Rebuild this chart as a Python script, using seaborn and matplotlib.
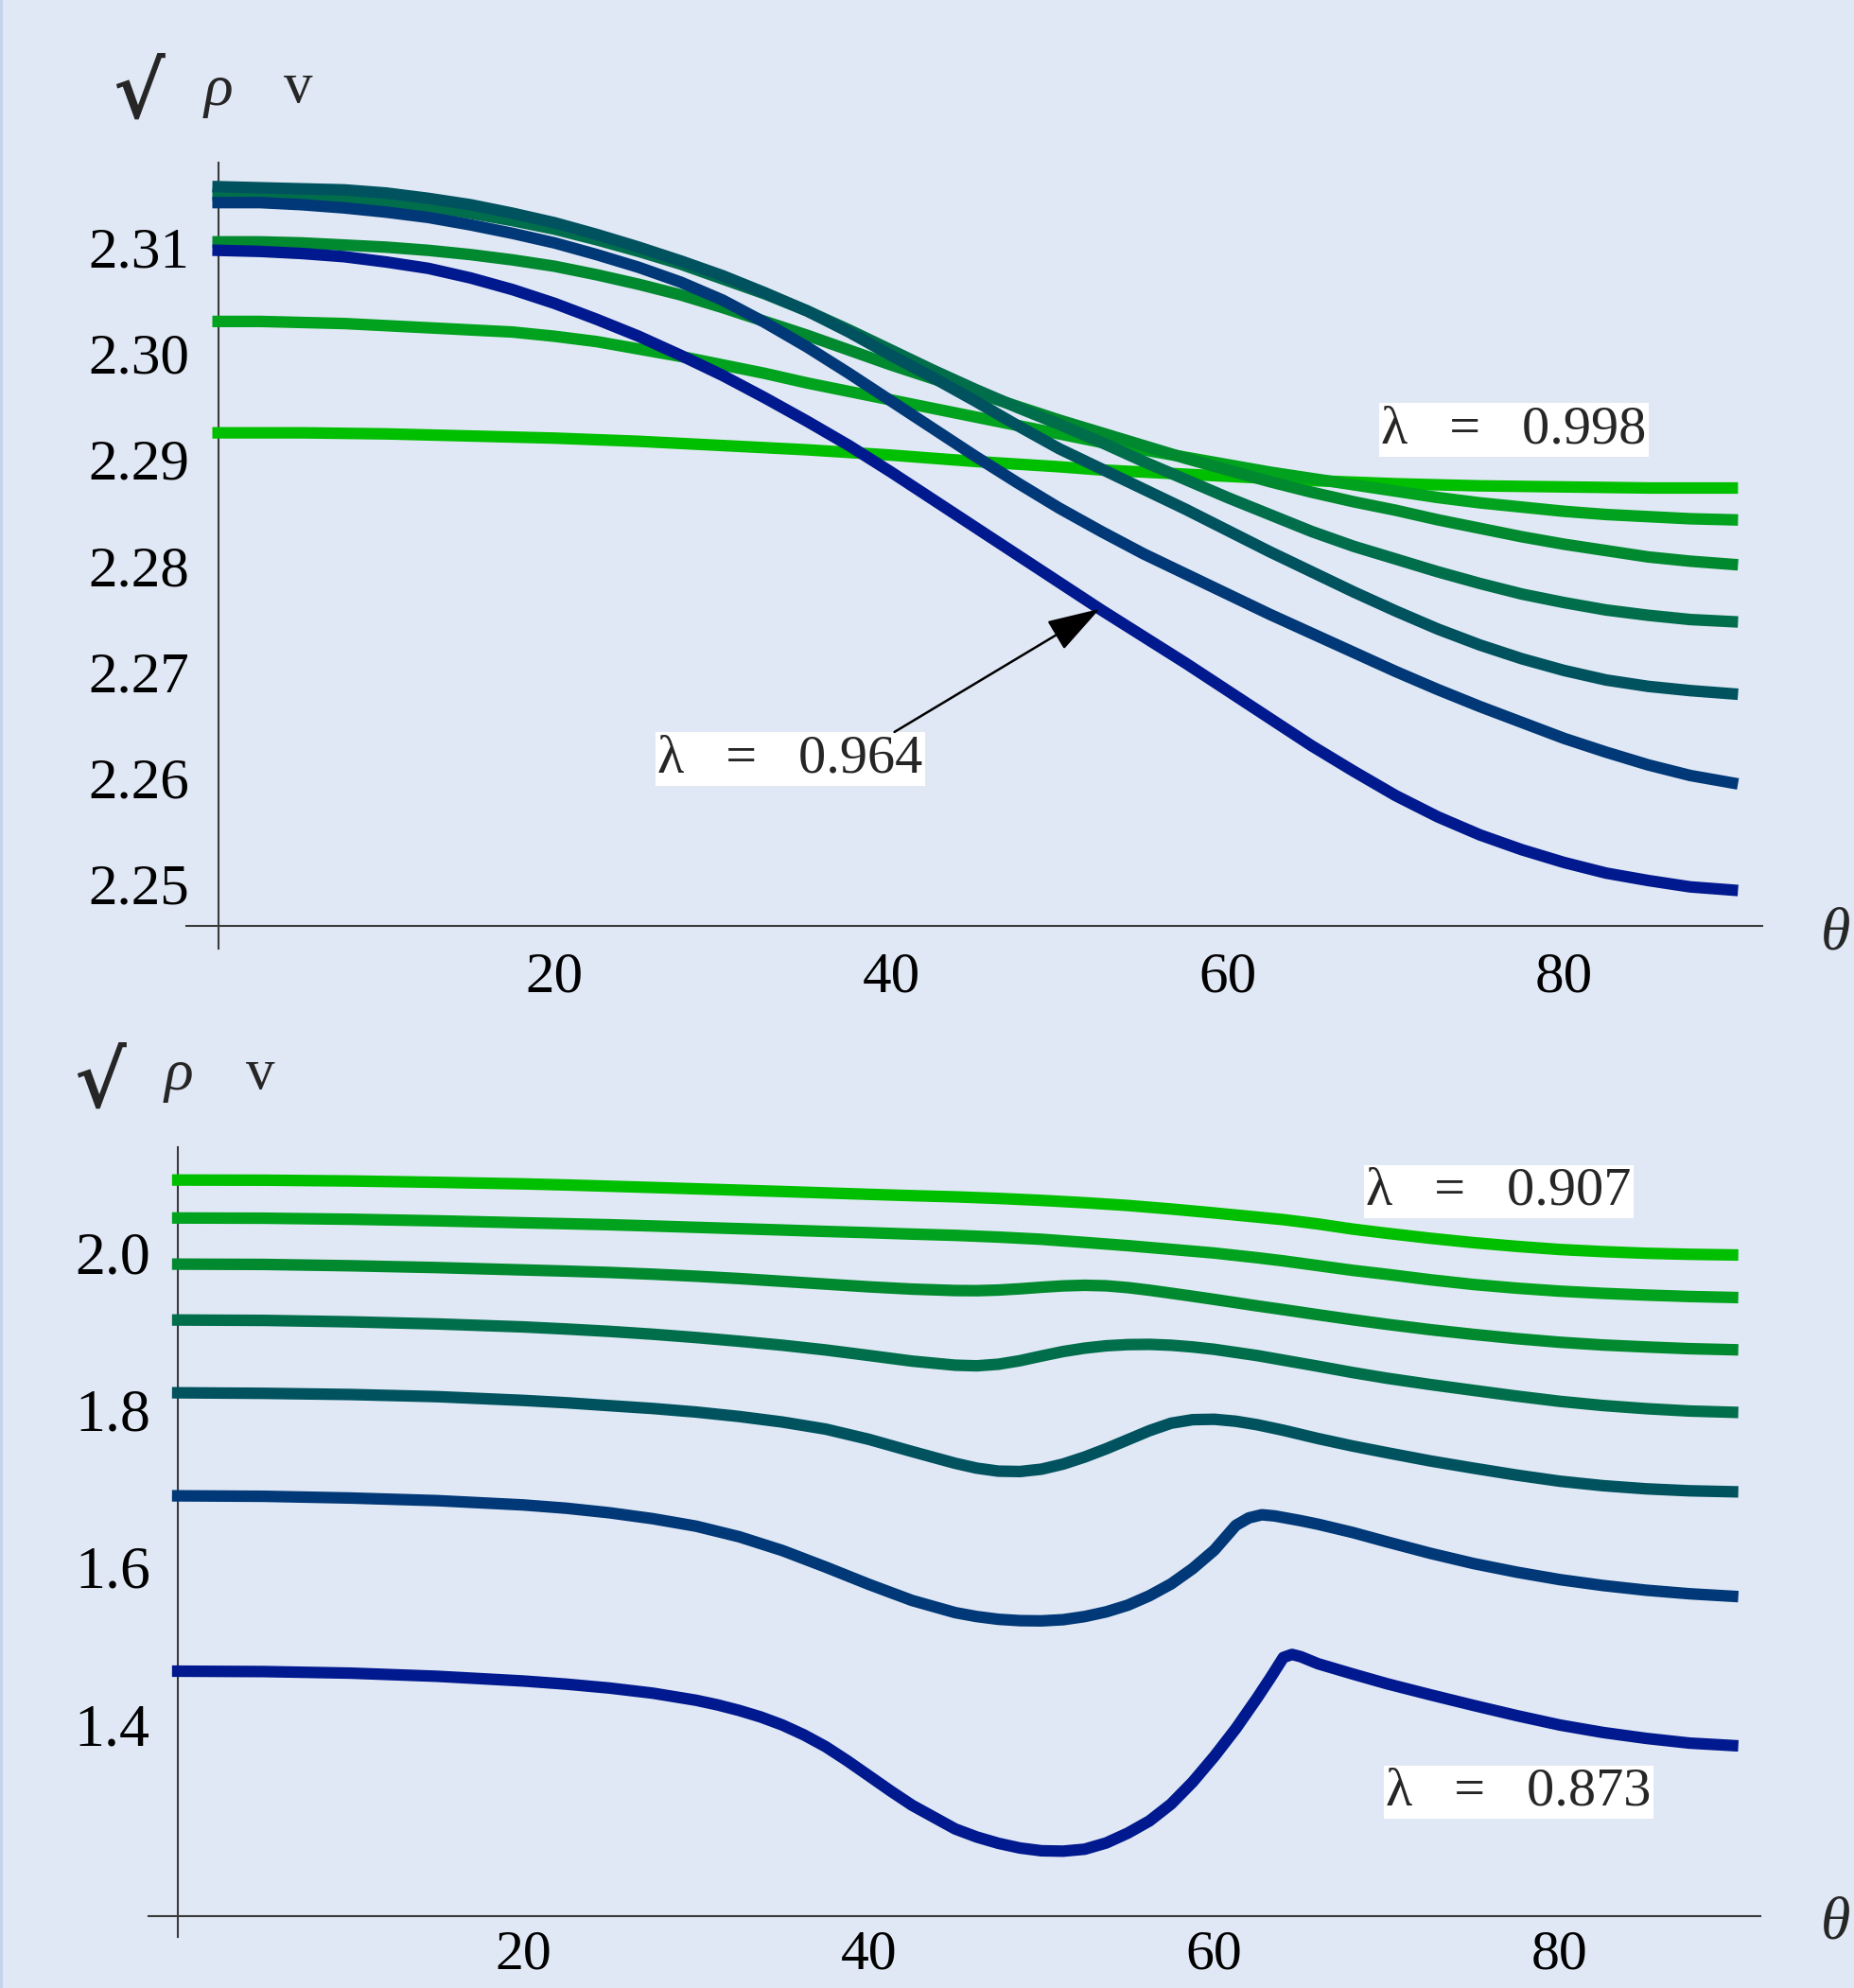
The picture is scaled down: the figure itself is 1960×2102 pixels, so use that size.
import numpy as np
import pandas as pd
import matplotlib
matplotlib.use("Agg")
import matplotlib.pyplot as plt
import seaborn as sns
from matplotlib.patches import Rectangle

# ---------------- data ----------------
theta_top = [0, 2.5, 5, 7.5, 10, 12.5, 15, 17.5, 20, 22.5, 25, 27.5, 30, 32.5, 35, 37.5,
             40, 42.5, 45, 47.5, 50, 52.5, 55, 57.5, 60, 62.5, 65, 67.5, 70, 72.5, 75,
             77.5, 80, 82.5, 85, 87.5, 90]
top_c1 = [2.2925, 2.2925, 2.2925, 2.29245, 2.2924, 2.2923, 2.2922, 2.2921, 2.2920, 2.29185,
          2.2917, 2.2915, 2.2913, 2.2911, 2.2909, 2.29065, 2.2904, 2.2901, 2.2898, 2.28955,
          2.2893, 2.2890, 2.2888, 2.2886, 2.2884, 2.2882, 2.2880, 2.28785, 2.2877, 2.2876,
          2.2875, 2.28745, 2.2874, 2.28735, 2.2873, 2.2873, 2.2873]
top_c2 = [2.3030, 2.3030, 2.3029, 2.3028, 2.3026, 2.3024, 2.3022, 2.3020, 2.3016, 2.3011,
          2.3004, 2.2997, 2.2989, 2.2981, 2.2972, 2.2964, 2.2956, 2.2948, 2.2940, 2.2932,
          2.2924, 2.2916, 2.2909, 2.2902, 2.2895, 2.2888, 2.2882, 2.2876, 2.2870, 2.2864,
          2.2859, 2.2855, 2.2851, 2.2848, 2.2846, 2.2844, 2.2843]
top_c3 = [2.3105, 2.3105, 2.3104, 2.3102, 2.3100, 2.3097, 2.3093, 2.3088, 2.3082, 2.3074,
          2.3065, 2.3055, 2.3043, 2.3030, 2.3017, 2.3003, 2.2989, 2.2976, 2.2963, 2.2950,
          2.2937, 2.2925, 2.2913, 2.2901, 2.2890, 2.2879, 2.2869, 2.2860, 2.2852, 2.2843,
          2.2835, 2.2827, 2.2820, 2.2814, 2.2808, 2.2804, 2.2801]
top_c4 = [2.3149, 2.3149, 2.3147, 2.3145, 2.3142, 2.3138, 2.3132, 2.3125, 2.3117, 2.3107,
          2.3096, 2.3084, 2.3070, 2.3056, 2.3040, 2.3022, 2.3003, 2.2984, 2.2966, 2.2949,
          2.2933, 2.2916, 2.2898, 2.2881, 2.2864, 2.2848, 2.2832, 2.2818, 2.2806, 2.2794,
          2.2783, 2.2773, 2.2765, 2.2758, 2.2753, 2.2749, 2.2747]
top_c5 = [2.3157, 2.3156, 2.3155, 2.3154, 2.3151, 2.3146, 2.3140, 2.3132, 2.3123, 2.3112,
          2.3100, 2.3087, 2.3073, 2.3057, 2.3040, 2.3020, 2.2998, 2.2977, 2.2955, 2.2932,
          2.2910, 2.2891, 2.2872, 2.2853, 2.2833, 2.2813, 2.2794, 2.2775, 2.2757, 2.2740,
          2.2725, 2.2712, 2.2701, 2.2692, 2.2686, 2.2682, 2.2679]
top_c6 = [2.3142, 2.3142, 2.3140, 2.3137, 2.3133, 2.3128, 2.3121, 2.3113, 2.3104, 2.3093,
          2.3081, 2.3067, 2.3050, 2.3029, 2.3006, 2.2981, 2.2955, 2.2929, 2.2903, 2.2878,
          2.2854, 2.2832, 2.2811, 2.2792, 2.2773, 2.2754, 2.2736, 2.2718, 2.2700, 2.2683,
          2.2667, 2.2652, 2.2637, 2.2624, 2.2612, 2.2602, 2.2595]
top_c7 = [2.3097, 2.3096, 2.3094, 2.3091, 2.3086, 2.3080, 2.3071, 2.3060, 2.3047, 2.3032,
          2.3016, 2.2998, 2.2979, 2.2958, 2.2936, 2.2913, 2.2888, 2.2862, 2.2836, 2.2810,
          2.2784, 2.2758, 2.2733, 2.2708, 2.2682, 2.2656, 2.2630, 2.2606, 2.2583, 2.2563,
          2.2546, 2.2532, 2.2520, 2.2510, 2.2503, 2.2497, 2.2494]

# bottom panel: flatter curves share one grid, the curves with dips have denser readings
theta_g12 = [0, 5, 10, 15, 20, 22.5, 25, 27.5, 30, 32.5, 35, 37.5, 40, 42.5, 45, 47.5, 50,
             52.5, 55, 57.5, 60, 62.5, 64, 66, 68, 70, 72.5, 75, 77.5, 80, 82.5, 85, 87.5, 90]
bot_g1 = [2.0924, 2.0922, 2.0912, 2.0895, 2.0875, 2.0861, 2.0845, 2.0829, 2.0812, 2.0795,
          2.0778, 2.0760, 2.0742, 2.0725, 2.0710, 2.0690, 2.0665, 2.0635, 2.0600, 2.0555,
          2.0505, 2.0452, 2.0420, 2.0365, 2.0300, 2.0246, 2.0183, 2.0127, 2.0080, 2.0040,
          2.0013, 1.9992, 1.9979, 1.9971]
bot_g2 = [2.0441, 2.0438, 2.0425, 2.0405, 2.0380, 2.0368, 2.0355, 2.0339, 2.0322, 2.0305,
          2.0288, 2.0270, 2.0254, 2.0236, 2.0220, 2.0198, 2.0170, 2.0130, 2.0089, 2.0042,
          1.9995, 1.9935, 1.9895, 1.9835, 1.9775, 1.9724, 1.9655, 1.9595, 1.9548, 1.9510,
          1.9482, 1.9460, 1.9442, 1.9430]

theta_g34 = [0, 5, 10, 15, 20, 22.5, 25, 27.5, 30, 32.5, 35, 37.5, 40, 42.5, 45, 46.25, 47.5,
             48.75, 50, 51.25, 52.5, 53.75, 55, 56.25, 57.5, 58.75, 60, 62.5, 64, 66, 68, 70,
             72.5, 75, 77.5, 80, 82.5, 85, 87.5, 90]
bot_g3 = [1.9854, 1.9850, 1.9833, 1.9810, 1.9780, 1.9765, 1.9748, 1.9726, 1.9700, 1.9670,
          1.9635, 1.9600, 1.9565, 1.9536, 1.9518, 1.9516, 1.9524, 1.9540, 1.9560, 1.9577,
          1.9585, 1.9578, 1.9555, 1.9522, 1.9484, 1.9445, 1.9405, 1.9322, 1.9275, 1.9210,
          1.9147, 1.9088, 1.9020, 1.8960, 1.8906, 1.8860, 1.8825, 1.8800, 1.8778, 1.8765]
bot_g4 = [1.9143, 1.9138, 1.9120, 1.9093, 1.9055, 1.9028, 1.8998, 1.8962, 1.8920, 1.8873,
          1.8822, 1.8762, 1.8692, 1.8620, 1.8568, 1.8560, 1.8580, 1.8625, 1.8685, 1.8742,
          1.8785, 1.8815, 1.8830, 1.8833, 1.8822, 1.8800, 1.8770, 1.8690, 1.8632, 1.8555,
          1.8475, 1.8402, 1.8322, 1.8248, 1.8175, 1.8108, 1.8055, 1.8015, 1.7985, 1.7969]

theta_g5 = [0, 5, 10, 15, 20, 22.5, 25, 27.5, 30, 32.5, 35, 37.5, 40, 42.5, 45, 46.25, 47.5,
            48.75, 50, 51.25, 52.5, 53.75, 55, 56.25, 57.5, 58.75, 60, 61.25, 62.5, 64, 66,
            68, 70, 72.5, 75, 77.5, 80, 82.5, 85, 87.5, 90]
bot_g5 = [1.8217, 1.8210, 1.8195, 1.8168, 1.8120, 1.8090, 1.8053, 1.8017, 1.7972, 1.7915,
          1.7845, 1.7755, 1.7625, 1.7470, 1.7320, 1.7258, 1.7220, 1.7215, 1.7245, 1.7310,
          1.7400, 1.7505, 1.7620, 1.7735, 1.7830, 1.7875, 1.7880, 1.7855, 1.7810, 1.7740,
          1.7635, 1.7540, 1.7454, 1.7350, 1.7258, 1.7170, 1.7092, 1.7035, 1.6995, 1.6970,
          1.6958]

theta_g6 = [0, 5, 10, 15, 20, 22.5, 25, 27.5, 30, 32.5, 35, 37.5, 40, 42.5, 45, 46.25, 47.5,
            48.75, 50, 51.25, 52.5, 53.75, 55, 56.25, 57.5, 58.75, 60, 61.25, 62, 62.75,
            63.5, 65, 66, 68, 70, 72.5, 75, 77.5, 80, 82.5, 85, 87.5, 90]
bot_g6 = [1.6906, 1.6900, 1.6878, 1.6845, 1.6790, 1.6748, 1.6690, 1.6615, 1.6520, 1.6385,
          1.6210, 1.6000, 1.5780, 1.5575, 1.5420, 1.5370, 1.5335, 1.5318, 1.5315, 1.5330,
          1.5370, 1.5430, 1.5515, 1.5635, 1.5785, 1.5980, 1.6215, 1.6530, 1.6625, 1.6665,
          1.6650, 1.6590, 1.6545, 1.6440, 1.6320, 1.6175, 1.6045, 1.5935, 1.5840, 1.5765,
          1.5705, 1.5660, 1.5628]

theta_g7 = [0, 5, 10, 15, 20, 22.5, 25, 27.5, 30, 31.25, 32.5, 33.75, 35, 36.25, 37.5, 38.75,
            40, 41.25, 42.5, 45, 46.25, 47.5, 48.75, 50, 51.25, 52.5, 53.75, 55, 56.25, 57.5,
            58.75, 60, 61.25, 62.5, 63.25, 64, 64.5, 65, 66, 68, 70, 72.5, 75, 77.5, 80,
            82.5, 85, 87.5, 90]
bot_g7 = [1.4675, 1.4670, 1.4650, 1.4610, 1.4550, 1.4510, 1.4460, 1.4395, 1.4305, 1.4246,
          1.4175, 1.4092, 1.3990, 1.3864, 1.3715, 1.3536, 1.3345, 1.3153, 1.2970, 1.2668,
          1.2565, 1.2485, 1.2425, 1.2390, 1.2385, 1.2410, 1.2490, 1.2615, 1.2770, 1.2985,
          1.3265, 1.3590, 1.3945, 1.4340, 1.4590, 1.4850, 1.4888, 1.4860, 1.4770, 1.4640,
          1.4515, 1.4375, 1.4240, 1.4110, 1.3990, 1.3895, 1.3820, 1.3760, 1.3729]

curve_names = ["c1", "c2", "c3", "c4", "c5", "c6", "c7"]
palette = ["#00BE00", "#00A21E", "#00892F", "#006E4B", "#00525F", "#003878", "#00198F"]

top_xticks = [20, 40, 60, 80]
top_xtick_labels = ["20", "40", "60", "80"]
top_yticks = [2.25, 2.26, 2.27, 2.28, 2.29, 2.30, 2.31]
top_ytick_labels = ["2.25", "2.26", "2.27", "2.28", "2.29", "2.30", "2.31"]
bot_yticks = [1.4, 1.6, 1.8, 2.0]
bot_ytick_labels = ["1.4", "1.6", "1.8", "2.0"]

top_label_hi = "λ   =   0.998"
top_label_lo = "λ   =   0.964"
bot_label_hi = "λ   =   0.907"
bot_label_lo = "λ   =   0.873"

# ---------------- style ----------------
W, H = 1960, 2102
BG = "#E1E8F5"
sns.set_style("white")
plt.rcParams["font.family"] = ["Liberation Serif", "DejaVu Serif"]

fig = plt.figure(figsize=(W / 100, H / 100), dpi=100, facecolor=BG)
fig.patches.append(Rectangle((0, 0), 3 / W, 1, transform=fig.transFigure,
                             facecolor="#C6D3E9", edgecolor="none", zorder=0))


def fx(px):
    return px / W


def fy(py):
    return 1 - py / H


def long_df(thetas, series):
    rows = []
    for name, th, vals in zip(curve_names, thetas, series):
        for t, v in zip(th, vals):
            rows.append((name, t, v))
    return pd.DataFrame(rows, columns=["curve", "theta", "value"])


def setup_axes(ax, xlim, ylim, ycross, yticks, ylabels, yminor, ylabel_size, ypad,
               xlabel_size, xpad):
    ax.set_facecolor("none")
    ax.set_xlim(*xlim)
    ax.set_ylim(*ylim)
    for s in ["top", "right"]:
        ax.spines[s].set_visible(False)
    ax.spines["left"].set_position(("data", 0))
    ax.spines["bottom"].set_position(("data", ycross))
    for s in ["left", "bottom"]:
        ax.spines[s].set_color("#3a3a3a")
        ax.spines[s].set_linewidth(1.5)
        ax.spines[s].set_zorder(1)
    ax.set_xticks(top_xticks)
    ax.set_xticklabels(top_xtick_labels)
    ax.set_xticks([t for t in range(5, 91, 5) if t % 20 != 0], minor=True)
    ax.set_yticks(yticks)
    ax.set_yticklabels(ylabels)
    ax.set_yticks(yminor, minor=True)
    ax.tick_params(which="major", direction="in", length=12, width=1.3, color="#3a3a3a",
                   labelcolor="black")
    ax.tick_params(which="minor", direction="in", length=7, width=1.1, color="#3a3a3a")
    ax.tick_params(axis="x", which="major", pad=xpad, labelsize=xlabel_size)
    ax.tick_params(axis="y", which="major", pad=ypad, labelsize=ylabel_size)
    ax.set_xlabel("")
    ax.set_ylabel("")


box = dict(facecolor="white", edgecolor="none", boxstyle="square,pad=0.04")
LW = 8.8

# ---------------- top panel ----------------
ax1 = fig.add_axes([fx(196.8), fy(1002.8), fx(1863.3) - fx(196.8), fy(171.6) - fy(1002.8)])
top_series = [top_c1, top_c2, top_c3, top_c4, top_c5, top_c6, top_c7]
sns.lineplot(data=long_df([theta_top] * 7, top_series), x="theta", y="value", hue="curve",
             hue_order=curve_names, palette=palette, estimator=None, sort=False,
             linewidth=LW, legend=False, ax=ax1, solid_capstyle="projecting",
             solid_joinstyle="round", zorder=3)
top_minor = [round(v, 3) for v in np.arange(2.244, 2.3181, 0.002)
             if min(abs(v - t) for t in top_yticks) > 1e-6]
setup_axes(ax1, (-1.9, 91.8), (2.2439, 2.3180), 2.2460, top_yticks, top_ytick_labels,
           top_minor, 44, 22, 44, 19)

ax1.text(77.0, 2.29276, top_label_hi, ha="center", va="center", fontsize=42, bbox=box, zorder=5)
ax1.text(34.0, 2.26175, top_label_lo, ha="center", va="center", fontsize=42, bbox=box, zorder=5)
tip_t = 52.4
tip_v = float(np.interp(tip_t, theta_top, top_c7))
ax1.annotate("", xy=(tip_t, tip_v), xytext=(40.2, 2.2643),
             arrowprops=dict(arrowstyle="-|>,head_length=1.75,head_width=0.55",
                             mutation_scale=20, color="black", lw=1.8,
                             shrinkA=0, shrinkB=0), zorder=6)

# ---------------- bottom panel ----------------
ax2 = fig.add_axes([fx(156.9), fy(2048.4), fx(1860.8) - fx(156.9), fy(1213.2) - fy(2048.4)])
bot_series = [bot_g1, bot_g2, bot_g3, bot_g4, bot_g5, bot_g6, bot_g7]
bot_thetas = [theta_g12, theta_g12, theta_g34, theta_g34, theta_g5, theta_g6, theta_g7]
sns.lineplot(data=long_df(bot_thetas, bot_series), x="theta", y="value", hue="curve",
             hue_order=curve_names, palette=palette, estimator=None, sort=False,
             linewidth=LW, legend=False, ax=ax2, solid_capstyle="projecting",
             solid_joinstyle="round", zorder=3)
bot_minor = [round(v, 2) for v in np.arange(1.20, 2.101, 0.05)
             if min(abs(v - t) for t in bot_yticks) > 1e-6]
setup_axes(ax2, (-1.7, 91.6), (1.1289, 2.1339), 1.1563, bot_yticks, bot_ytick_labels,
           bot_minor, 46, 21, 43, 11)

ax2.text(76.45, 2.0776, bot_label_hi, ha="center", va="center", fontsize=42, bbox=box, zorder=5)
ax2.text(77.6, 1.3135, bot_label_lo, ha="center", va="center", fontsize=42, bbox=box, zorder=5)

# ---------------- axis labels ----------------
for (sx, sy), (rx, ry), (vx, vy) in [((146, 102), (231, 96), (315, 93)),
                                     ((105, 1148), (189, 1137), (275, 1136))]:
    fig.text(fx(sx), fy(sy), "√", fontsize=60, family=["DejaVu Serif"], ha="center",
             va="center", fontweight="bold")
    fig.text(fx(rx), fy(ry), "ρ", fontsize=46, style="italic", ha="center", va="center")
    fig.text(fx(vx), fy(vy), "v", fontsize=44, ha="center", va="center")

fig.text(fx(1925), fy(988), "θ", fontsize=46, style="italic", ha="left", va="center")
fig.text(fx(1925), fy(2034), "θ", fontsize=46, style="italic", ha="left", va="center")

fig.savefig("out.png", dpi=100, facecolor=BG)
